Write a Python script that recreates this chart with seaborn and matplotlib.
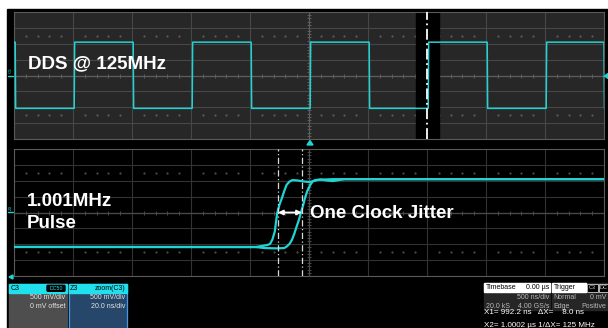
import matplotlib
matplotlib.use("Agg")
import matplotlib.pyplot as plt
from matplotlib.patches import Rectangle, FancyBboxPatch, Polygon
import pandas as pd
import seaborn as sns

# ---- waveform data, in screen divisions (x: 0..10, y: -4..4) ----
dds_fall_edges = [0.02, 2.02, 4.02, 6.02, 8.02, 10.0]
dds_rise_edges = [1.02, 3.02, 5.02, 7.02, 9.02]
dds_high = 2.10
dds_low = -2.07

pulse_a_x = [0.0, 4.10, 4.22, 4.30, 4.34, 4.38, 4.42, 4.46, 4.50, 4.54, 4.58,
             4.62, 4.67, 4.72, 4.80, 4.90, 5.00, 5.08, 5.16, 5.40, 10.0]
pulse_a_y = [-2.17, -2.17, -2.10, -2.04, -1.98, -1.70, -1.20, -0.05, 0.50, 0.90,
             1.35, 1.74, 1.95, 2.04, 2.02, 1.96, 1.92, 1.98, 2.06, 2.10, 2.10]

pulse_b_x = [0.0, 4.10, 4.25, 4.45, 4.58, 4.62, 4.67, 4.71, 4.75, 4.79, 4.83,
             4.86, 4.90, 4.93, 4.97, 5.02, 5.06, 5.10, 5.20, 5.30, 5.40, 5.50,
             5.60, 10.0]
pulse_b_y = [-2.17, -2.18, -2.24, -2.26, -2.24, -2.15, -1.98, -1.73, -1.35, -0.89,
             -0.45, -0.05, 0.45, 0.89, 1.35, 1.73, 1.95, 2.04, 2.08, 2.02, 1.98,
             2.04, 2.10, 2.10]

cursor_x1 = 4.475
cursor_x2 = 4.88
zoom_cursor_x = 7.0
zoom_band = (6.81, 7.20)

TRACE = "#22d3d3"
CYAN_HDR = "#1fe0ec"

W, H = 608, 328
sns.set_style("dark")
plt.rcParams["font.family"] = ["Liberation Sans", "DejaVu Sans"]

fig = plt.figure(figsize=(W / 100, H / 100), dpi=100)
fig.patch.set_facecolor("white")


def px_axes(left, top, right, bottom, z=1):
    return fig.add_axes([left / W, 1 - bottom / H, (right - left) / W, (bottom - top) / H],
                        zorder=z)


# background layer in pixel coordinates
bg = px_axes(0, 0, W, H, z=0)
bg.set_xlim(0, W)
bg.set_ylim(H, 0)
bg.axis("off")
bg.add_patch(Rectangle((7, 9), W - 7, H - 9, color="black", zorder=0))


def scope_panel(ax, face, grid, center, dots):
    ax.set_facecolor(face)
    ax.set_xlim(0, 10)
    ax.set_ylim(-4, 4)
    ax.set_xticks(range(11))
    ax.set_yticks(range(-4, 5))
    ax.tick_params(length=0, labelbottom=False, labelleft=False)
    ax.grid(True, color=grid, linewidth=0.8)
    for s in ax.spines.values():
        s.set_color("#5a5a5a")
        s.set_linewidth(0.8)
    ax.axhline(0, color=center, lw=0.9, zorder=1)
    ax.axvline(5, color=center, lw=0.9, zorder=1)
    minor = [i * 0.2 for i in range(51) if i % 5]
    ax.plot(minor, [0] * len(minor), ls="none", marker="|", ms=3, mew=0.7,
            color=center, zorder=1)
    vminor = [i * 0.2 - 4 for i in range(41) if i % 5]
    ax.plot([5] * len(vminor), vminor, ls="none", marker="_", ms=3, mew=0.7,
            color=center, zorder=1)
    for yy in (2.5, -2.5):
        ax.plot(minor, [yy] * len(minor), ls="none", marker="s", ms=0.6,
                color=dots, zorder=1)
    ax.set_xlabel("")
    ax.set_ylabel("")


# ---- top panel: DDS clock ----
top = px_axes(14, 12, 604, 139, z=2)
scope_panel(top, "#272727", "#474747", "#5e5e5e", "#5a5a5a")
top.axvspan(*zoom_band, color="black", zorder=1.5)

sq_x, sq_y = [0.0], [dds_high]
level = dds_high
for e in sorted(dds_fall_edges + dds_rise_edges):
    new = dds_low if e in dds_fall_edges else dds_high
    sq_x += [e, e + 0.008]
    sq_y += [level, new]
    level = new
dds = pd.DataFrame({"div": sq_x, "level": sq_y})
sns.lineplot(data=dds, x="div", y="level", ax=top, color=TRACE, lw=1.1,
             sort=False, estimator=None, zorder=3)
top.axvline(zoom_cursor_x, color="white", lw=1.3, ls=(0, (6, 2, 1, 2)), zorder=4)
top.set_xlabel("")
top.set_ylabel("")

# ---- bottom panel: zoomed pulse edges ----
bot = px_axes(14, 149, 604, 276, z=2)
scope_panel(bot, "black", "#333333", "#4a4a4a", "#4a4a4a")
pulse = pd.concat([
    pd.DataFrame({"div": pulse_a_x, "level": pulse_a_y, "trace": "a"}),
    pd.DataFrame({"div": pulse_b_x, "level": pulse_b_y, "trace": "b"}),
])
sns.lineplot(data=pulse, x="div", y="level", hue="trace",
             palette=[TRACE, TRACE], ax=bot, lw=1.6, sort=False,
             estimator=None, legend=False, zorder=3)
for cx in (cursor_x1, cursor_x2):
    bot.axvline(cx, color="#d8d8d8", lw=0.9, ls=(0, (5, 2, 1, 2)), zorder=4)
bot.annotate("", xy=(cursor_x1, 0), xytext=(cursor_x2, 0),
             arrowprops=dict(arrowstyle="<|-|>", color="white", lw=1.3,
                             mutation_scale=7, shrinkA=0, shrinkB=0), zorder=5)
bot.set_xlabel("")
bot.set_ylabel("")

# ---- foreground annotations in pixel coordinates ----
fg = px_axes(0, 0, W, H, z=5)
fg.set_xlim(0, W)
fg.set_ylim(H, 0)
fg.axis("off")
fg.patch.set_alpha(0)

big = dict(color="white", fontsize=13.5, fontweight="bold", va="center", ha="left")
fg.text(28, 64, "DDS @ 125MHz", **big)
fg.text(27, 202, "1.001MHz", **big)
fg.text(27, 223, "Pulse", **big)
fg.text(310, 214, "One Clock Jitter", **big)

# channel markers on the left edge and trigger marker
fg.text(10.5, 70.5, "C3", color=TRACE, fontsize=3.2, rotation=90, ha="center", va="center")
fg.plot([8, 13], [75.5, 75.5], color=TRACE, lw=1)
fg.text(10.5, 207.5, "Z3", color=TRACE, fontsize=3.2, rotation=90, ha="center", va="center")
fg.plot([8, 13], [212, 212], color=TRACE, lw=1)
fg.add_patch(Polygon([[9, 277], [13, 275], [13, 279]], color=TRACE))
fg.add_patch(Polygon([[307, 145], [313, 145], [310, 140.5]], color=TRACE))
fg.add_patch(Polygon([[604.5, 76], [608, 73.5], [608, 78.5]], color=TRACE))

# ---- channel descriptor boxes ----
small = dict(fontsize=5, va="center")
fg.add_patch(Rectangle((9, 284), 58, 45, color="#4e4e4e"))
fg.add_patch(Rectangle((9, 284), 58, 8.5, color=CYAN_HDR))
fg.text(10.5, 288.2, "C3", color="black", ha="left", **small)
fg.add_patch(FancyBboxPatch((47, 285.3), 18, 6, boxstyle="round,pad=0,rounding_size=1",
                            color="black"))
fg.text(56, 288.3, "DC50", color=CYAN_HDR, ha="center", fontsize=3.8, va="center")
fg.text(65.5, 297.5, "500 mV/div", color="#e6e6e6", ha="right", **small)
fg.text(65.5, 307, "0 mV offset", color="#e6e6e6", ha="right", **small)

fg.add_patch(Rectangle((68.5, 284), 58, 45, facecolor="#27476a", edgecolor="#3f9be8", lw=0.9))
fg.add_patch(Rectangle((68.5, 284), 58, 8.5, color=CYAN_HDR))
fg.text(70, 288.2, "Z3", color="black", ha="left", **small)
fg.text(125.5, 288.2, "zoom(C3)", color="black", ha="right", **small)
fg.text(125.5, 297.5, "500 mV/div", color="#e6e6e6", ha="right", **small)
fg.text(125.5, 307, "20.0 ns/div", color="#e6e6e6", ha="right", **small)

# ---- timebase / trigger boxes ----
fg.add_patch(Rectangle((484, 283), 66, 27, color="#262626"))
fg.add_patch(Rectangle((484, 283), 66, 9, color="white"))
fg.text(485.5, 287.6, "Timebase", color="black", ha="left", **small)
fg.text(549, 287.6, "0.00 µs", color="black", ha="right", **small)
fg.text(549, 297.5, "500 ns/div", color="#b8b8b8", ha="right", **small)
fg.text(485.5, 306.5, "20.0 kS", color="#b8b8b8", ha="left", **small)
fg.text(549, 306.5, "4.00 GS/s", color="#b8b8b8", ha="right", **small)

fg.add_patch(Rectangle((552, 283), 56, 27, color="#262626"))
fg.add_patch(Rectangle((552, 283), 34, 9, color="white"))
fg.text(553.5, 287.6, "Trigger", color="black", ha="left", **small)
fg.add_patch(Rectangle((587, 283.5), 11, 8, facecolor="black", edgecolor="#cfcfcf", lw=0.6))
fg.text(592.5, 287.6, "C3", color="#cfcfcf", ha="center", fontsize=4, va="center")
fg.add_patch(Rectangle((598.5, 283.5), 9, 8, facecolor="black", edgecolor="#cfcfcf", lw=0.6))
fg.text(603, 287.6, "DC", color="#cfcfcf", ha="center", fontsize=4, va="center")
fg.text(553.5, 297.5, "Normal", color="#b8b8b8", ha="left", **small)
fg.text(606.5, 297.5, "0 mV", color="#b8b8b8", ha="right", **small)
fg.text(553.5, 306.5, "Edge", color="#b8b8b8", ha="left", **small)
fg.text(606.5, 306.5, "Positive", color="#b8b8b8", ha="right", **small)

fg.text(484, 313, "X1= 992.2 ns   ΔX=    8.0 ns", color="white", ha="left",
        fontsize=5.8, va="center")
fg.text(484, 325.5, "X2= 1.0002 µs 1/ΔX= 125 MHz", color="white", ha="left",
        fontsize=5.8, va="center")

fig.savefig("out.png", dpi=100, facecolor=fig.get_facecolor())
